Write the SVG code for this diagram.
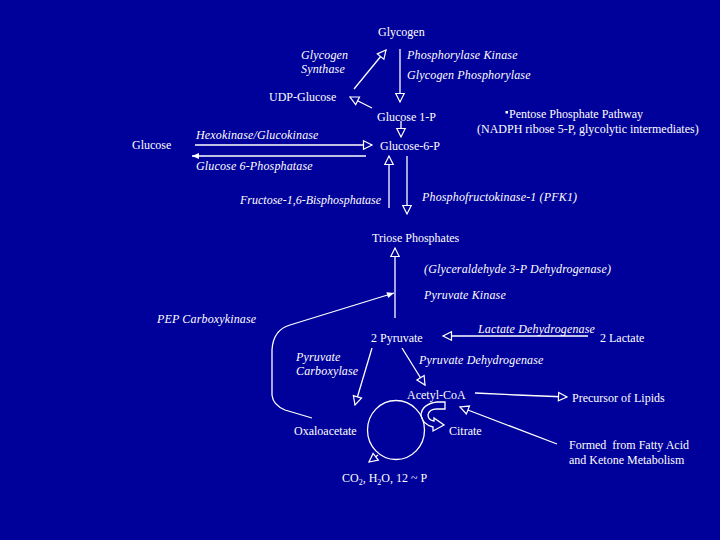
<svg xmlns="http://www.w3.org/2000/svg" width="720" height="540" viewBox="0 0 720 540">
<style>
text{font-family:"Liberation Serif","Times New Roman",serif;font-size:12px;fill:#ffffff;white-space:pre}
.i{font-style:italic;letter-spacing:0.15px}
.c line,.c path,.c polyline,.c ellipse{stroke:#ffffff;stroke-width:1.3;fill:none}
</style>
<defs>
<marker id="o" markerUnits="userSpaceOnUse" markerWidth="12" markerHeight="12" refX="8.5" refY="4.25" orient="auto" overflow="visible">
<path d="M0,0 L8.5,4.25 L0,8.5 Z" fill="#00009A" stroke="#ffffff" stroke-width="1.2"/>
</marker>
<marker id="f" markerUnits="userSpaceOnUse" markerWidth="10" markerHeight="10" refX="7" refY="3" orient="auto" overflow="visible">
<path d="M0,0 L7,3 L0,6 Z" fill="#ffffff"/>
</marker>
</defs>
<rect width="720" height="540" fill="#00009A"/>
<g class="c" id="connectors">
<line x1="354" y1="89" x2="386" y2="50" marker-end="url(#o)"/>
<line x1="400" y1="49" x2="400" y2="102" marker-end="url(#o)"/>
<line x1="372" y1="108" x2="350" y2="97" marker-end="url(#o)"/>
<line x1="401" y1="121" x2="401" y2="137" marker-end="url(#o)"/>
<line x1="195" y1="145" x2="372" y2="145" marker-end="url(#o)"/>
<line x1="366" y1="156" x2="192" y2="156" stroke-width="2" marker-end="url(#f)"/>
<line x1="389" y1="208" x2="389" y2="156" marker-end="url(#o)"/>
<line x1="407" y1="156" x2="407" y2="214" marker-end="url(#o)"/>
<line x1="395" y1="318" x2="395" y2="248" marker-end="url(#o)"/>
<path d="M312,418 L285,410 Q273,405 272,395 L272,350 Q273,330 290,325 L394,293" marker-end="url(#f)"/>
<line x1="588" y1="336" x2="443" y2="336" marker-end="url(#o)"/>
<line x1="372" y1="348" x2="355" y2="405" marker-end="url(#o)"/>
<line x1="402" y1="348" x2="425" y2="385" marker-end="url(#o)"/>
<polyline points="475,393 517,395 567,397" marker-end="url(#o)"/>
<line x1="557" y1="444" x2="460" y2="407" marker-end="url(#o)"/>
<ellipse cx="396" cy="430" rx="28.5" ry="29.5"/>
<line x1="378" y1="455" x2="369" y2="462" marker-end="url(#o)"/>
<path d="M445,402 L437,402 Q422,404 421,415 Q422,424 433,427 L433,431 L444,425 L434,418 L434,421 Q428,420 428,415 Q429,409 437,409 L445,409 Z"/>
</g>
<g id="n-glycogen"><text x="378" y="36">Glycogen</text></g>
<g id="l-synthase"><text class="i" x="301" y="59">Glycogen</text><text class="i" x="301" y="73">Synthase</text></g>
<g id="l-phosphorylase"><text class="i" x="407" y="59">Phosphorylase Kinase</text><text class="i" x="407" y="79">Glycogen Phosphorylase</text></g>
<g id="n-udp"><text x="269" y="101">UDP-Glucose</text></g>
<g id="n-g1p"><text x="377" y="121">Glucose 1-P</text></g>
<g id="n-g6p"><text x="380" y="150">Glucose-6-P</text></g>
<g id="n-glucose"><text x="132" y="149">Glucose</text></g>
<g id="l-hexo"><text class="i" x="196" y="139">Hexokinase/Glucokinase</text></g>
<g id="l-g6pase"><text class="i" x="196" y="170">Glucose 6-Phosphatase</text></g>
<g id="n-ppp"><rect x="505.5" y="111" width="2.5" height="2.5" fill="#ffffff"/><text x="509" y="118">Pentose Phosphate Pathway</text><text x="477" y="133">(NADPH ribose 5-P, glycolytic intermediates)</text></g>
<g id="l-fbpase"><text class="i" x="240" y="204" style="letter-spacing:0">Fructose-1,6-Bisphosphatase</text></g>
<g id="l-pfk"><text class="i" x="422" y="201">Phosphofructokinase-1 (PFK1)</text></g>
<g id="n-triose"><text x="372" y="242">Triose Phosphates</text></g>
<g id="l-gapdh"><text class="i" x="424" y="273">(Glyceraldehyde 3-P Dehydrogenase)</text></g>
<g id="l-pk"><text class="i" x="424" y="299">Pyruvate Kinase</text></g>
<g id="l-pepck"><text class="i" x="157" y="323">PEP Carboxykinase</text></g>
<g id="n-pyruvate"><text x="371" y="342">2 Pyruvate</text></g>
<g id="l-ldh"><text class="i" x="478" y="333">Lactate Dehydrogenase</text></g>
<g id="n-lactate"><text x="600" y="342">2 Lactate</text></g>
<g id="l-pc"><text class="i" x="296" y="361">Pyruvate</text><text class="i" x="296" y="375">Carboxylase</text></g>
<g id="l-pdh"><text class="i" x="419" y="364">Pyruvate Dehydrogenase</text></g>
<g id="n-acetyl"><text x="407" y="399">Acetyl-CoA</text></g>
<g id="n-lipids"><text x="572" y="402">Precursor of Lipids</text></g>
<g id="n-oaa"><text x="294" y="435">Oxaloacetate</text></g>
<g id="n-citrate"><text x="449" y="435">Citrate</text></g>
<g id="n-co2"><text x="342" y="482">CO<tspan font-size="8" dy="3">2</tspan><tspan dy="-3">, H</tspan><tspan font-size="8" dy="3">2</tspan><tspan dy="-3">O, 12 ~ P</tspan></text></g>
<g id="n-fatty"><text x="569" y="449">Formed  from Fatty Acid</text><text x="569" y="464">and Ketone Metabolism</text></g>
</svg>
